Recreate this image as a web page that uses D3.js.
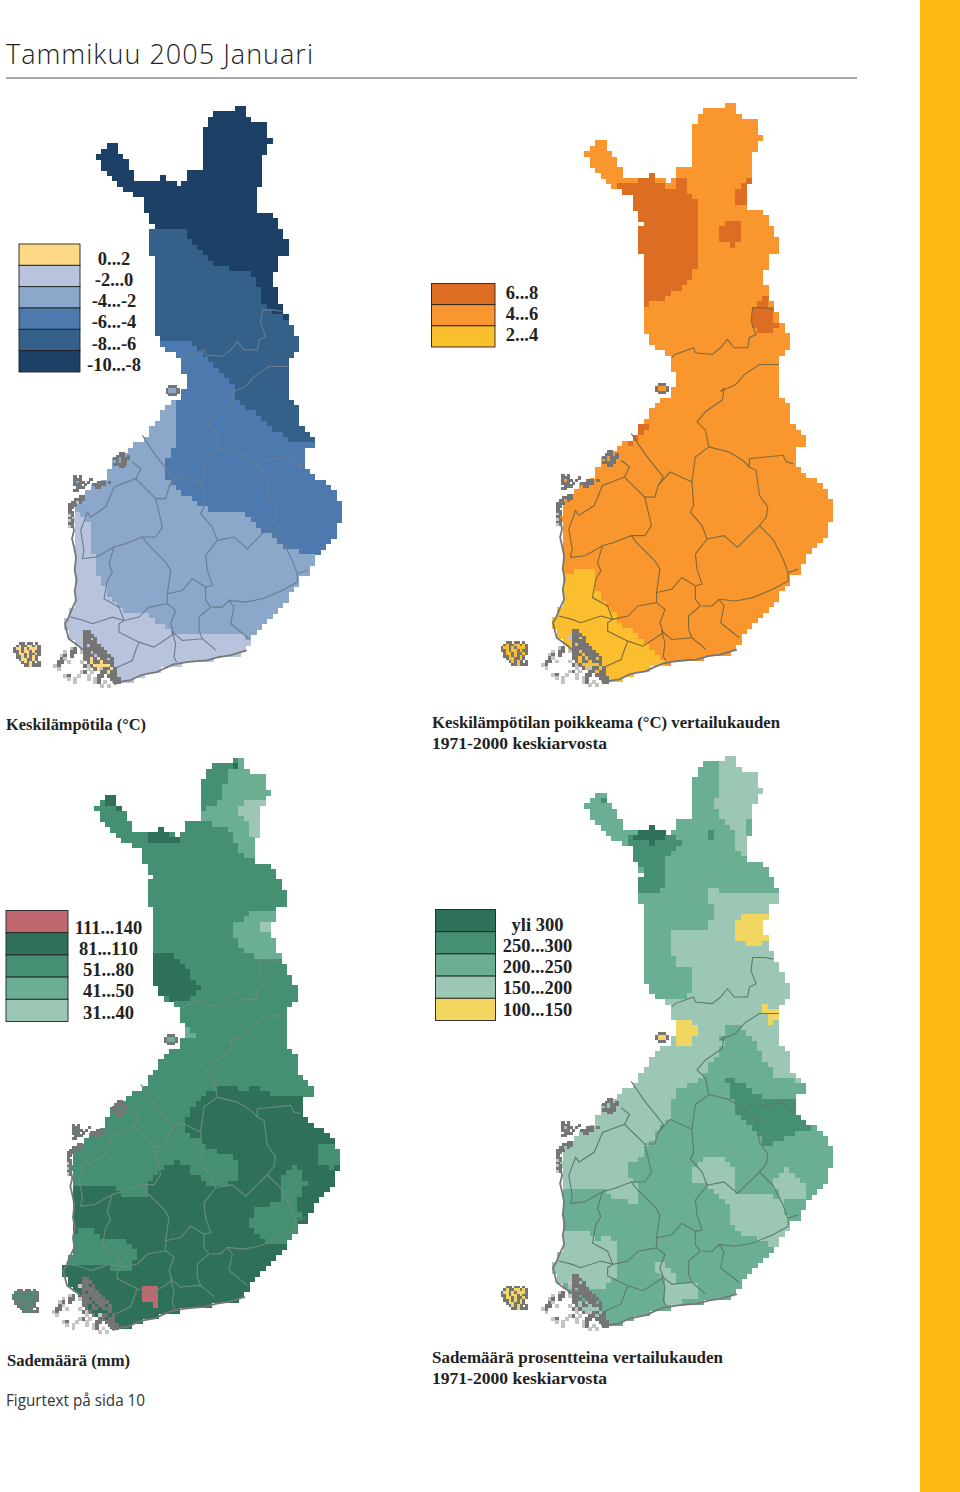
<!DOCTYPE html>
<html>
<head>
<meta charset="utf-8">
<title>Tammikuu 2005 Januari</title>
<script src="https://cdn.jsdelivr.net/npm/d3@7"></script>
<style>
html, body { margin: 0; padding: 0; background: #fff; }
svg { display: block; }
</style>
</head>
<body>
<div id="chart"></div>
<script>
// legends, dark to light as printed
var tempLabels = ["0...2", "-2...0", "-4...-2", "-6...-4", "-8...-6", "-10...-8"];
var tempColors = ["#fdd986", "#b8c3de", "#8ba7c9", "#4d7aae", "#356089", "#1c4066"];
var anomLabels = ["6...8", "4...6", "2...4"];
var anomColors = ["#dd6d23", "#f9962f", "#fbbe2d"];
var rainLabels = ["111...140", "81...110", "51...80", "41...50", "31...40"];
var rainColors = ["#c06870", "#2f7059", "#458f72", "#6bae93", "#9cc7b5"];
var pctLabels = ["yli 300", "250...300", "200...250", "150...200", "100...150"];
var pctColors = ["#2f7059", "#458f72", "#6bae93", "#9cc7b5", "#f2d662"];

// Finland outline in map units (one unit is a third of a pixel on the first map)
var coast = [[290,190],[318,172],[340,155],[360,185],[390,240],[405,275],[450,275],[475,268],[490,248],[500,272],[530,280],[545,295],[562,250],[600,235],[610,200],[600,190],[608,130],[625,95],[640,65],[695,60],[715,45],[735,60],[750,90],[800,105],[808,145],[818,150],[800,170],[790,200],[775,240],[790,255],[785,275],[765,290],[770,370],[805,372],[835,395],[850,440],[865,450],[862,490],[830,510],[825,540],[805,575],[825,600],[845,650],[875,705],[893,755],[890,785],[865,795],[868,935],[895,938],[900,1010],[935,1030],[938,1070],[915,1075],[912,1130],[960,1170],[1005,1200],[1025,1245],[1025,1270],[1015,1295],[1000,1345],[960,1380],[945,1410],[925,1445],[895,1470],[860,1525],[820,1570],[790,1605],[745,1655],[740,1680],[690,1695],[620,1710],[560,1715],[490,1735],[440,1750],[390,1770],[345,1780],[335,1760],[320,1740],[280,1710],[240,1670],[205,1645],[195,1600],[215,1560],[225,1500],[225,1440],[220,1370],[215,1285],[230,1230],[255,1200],[300,1180],[345,1110],[410,1060],[440,1035],[490,960],[530,925],[550,910],[555,885],[550,810],[520,790],[480,770],[475,750],[460,700],[455,650],[470,640],[470,570],[455,530],[470,520],[465,490],[440,490],[455,480],[455,420],[470,410],[440,375],[440,345],[425,325],[365,300],[345,270],[305,225]];

// rougher shoreline drawn over the raster, from Vaasa round to the Gulf of Finland
var southCoast = [[215,1285],[222,1320],[216,1345],[222,1370],[228,1400],[224,1440],[230,1470],[224,1500],[228,1530],[214,1560],[204,1585],[195,1600],[206,1645],[240,1670],[280,1710],[320,1740],[335,1760],[345,1780],[370,1772],[390,1770],[420,1755],[440,1750],[470,1745],[490,1735],[520,1722],[560,1715],[590,1712],[620,1710],[655,1700],[690,1695],[740,1680]];

// province borders, shared by all four maps
var borders = [
  [[547,809],[557,799],[612,779],[617,794],[667,799],[692,779],[712,754],[732,779],[772,779],[777,749],[797,739],[782,699],[787,659],[822,659],[847,664]],
  [[692,909],[737,889],[762,859],[807,829],[865,829]],
  [[692,909],[702,900],[697,935],[647,970],[622,1000],[647,1025],[657,1075]],
  [[657,1075],[717,1090],[757,1115],[777,1135],[777,1110],[877,1100],[887,1120],[907,1125]],
  [[657,1075],[617,1105],[607,1180],[612,1250],[602,1270],[637,1310],[652,1350]],
  [[777,1135],[797,1145],[807,1220],[832,1255],[827,1285],[807,1310],[777,1340],[742,1375],[702,1340],[652,1350]],
  [[807,1310],[847,1350],[877,1410],[892,1450],[892,1475],[847,1500],[787,1525],[737,1535],[687,1530],[667,1550],[637,1550]],
  [[892,1450],[922,1440]],
  [[652,1350],[617,1395],[622,1440],[637,1485],[617,1490],[617,1530],[632,1550],[597,1580],[597,1620],[607,1645],[637,1670],[647,1680]],
  [[687,1530],[702,1550],[692,1600],[747,1645]],
  [[607,1645],[547,1650],[517,1625],[527,1660],[522,1700],[530,1715]],
  [[607,1180],[542,1150],[507,1190],[497,1225],[467,1225],[407,1165],[342,1190],[317,1250],[272,1280],[262,1265],[242,1320],[252,1380],[247,1405]],
  [[247,1405],[290,1400],[342,1370],[377,1360],[427,1340],[467,1340],[487,1310],[467,1225]],
  [[427,1340],[442,1360],[497,1415],[512,1440],[502,1510],[502,1540]],
  [[502,1510],[547,1500],[577,1465],[617,1490]],
  [[342,1370],[327,1420],[337,1445],[322,1470],[312,1525],[357,1550],[372,1590]],
  [[502,1540],[447,1550],[417,1580],[372,1590],[337,1580],[277,1600],[252,1590],[212,1580]],
  [[502,1540],[527,1560],[512,1600],[522,1630],[462,1670],[417,1655],[357,1625],[357,1600],[372,1590]],
  [[417,1655],[407,1680],[397,1710],[342,1735]],
  [[427,1035],[467,1095],[522,1165],[507,1190]],
  [[397,1115],[422,1135],[407,1165]]
];

// class zones per map, later zones paint over earlier ones. First number is the legend row.
var tempBase = 5;
var tempZones = [
  [4, [[400,415],[545,415],[650,530],[745,545],[775,590],[795,650],[860,690],[1100,690],[1100,2000],[100,2000],[100,415]]],
  [3, [[400,750],[565,750],[700,885],[715,930],[790,990],[865,1050],[1100,1070],[1100,2000],[100,2000],[100,750]]],
  [2, [[100,900],[530,900],[530,1070],[515,1075],[500,1120],[500,1160],[530,1195],[600,1240],[650,1270],[730,1260],[790,1320],[850,1370],[945,1400],[1100,1400],[1100,2000],[100,2000]]],
  [1, [[100,1280],[240,1265],[270,1300],[272,1385],[290,1400],[290,1440],[320,1500],[325,1525],[365,1560],[440,1565],[510,1625],[730,1640],[760,1660],[760,2000],[100,2000]]]
];

var anomBase = 1;
var anomZones = [
  [0, [[384,284],[467,279],[477,254],[497,254],[502,279],[527,299],[557,299],[557,279],[587,279],[587,314],[617,344],[632,404],[632,524],[617,539],[597,579],[567,604],[527,634],[472,649],[400,649],[400,489],[430,489],[452,479],[452,419],[437,384],[422,339],[387,319]]],
  [0, [[742,299],[757,299],[772,279],[800,279],[800,374],[765,359],[752,354],[742,354]]],
  [0, [[717,389],[727,404],[757,404],[755,429],[747,449],[737,479],[727,479],[717,464],[697,464],[692,434],[680,429],[697,414],[712,404]]],
  [0, [[822,624],[787,659],[787,719],[822,739],[865,719],[847,689],[832,629]]],
  [0, [[467,1000],[482,1005],[477,1025],[442,1050],[427,1070],[417,1060],[437,1030]]],
  [2, [[100,1460],[297,1445],[327,1445],[322,1500],[337,1525],[367,1560],[387,1595],[477,1665],[530,1725],[530,1800],[100,1800]]]
];

var rainBase = 2;
var rainZones = [
  [3, [[695,82],[740,40],[830,100],[830,152],[795,212],[790,252],[790,362],[740,357],[715,322],[705,272],[655,252],[605,232],[615,212],[665,172],[665,132],[695,122]]],
  [4, [[715,207],[750,177],[810,172],[800,212],[800,292],[760,287],[755,247],[730,227]]],
  [1, [[320,177],[340,150],[365,182],[360,202],[340,197],[320,192]]],
  [1, [[450,282],[485,240],[505,252],[505,277],[530,282],[540,297],[450,297]]],
  [1, [[707,67],[723,67],[723,83],[707,83]]],
  [3, [[710,552],[745,522],[850,507],[830,582],[840,612],[860,652],[775,652],[725,622],[713,602]]],
  [4, [[787,552],[830,552],[830,582],[787,577]]],
  [1, [[430,642],[515,642],[565,682],[605,747],[560,792],[505,772],[475,752],[430,692]]],
  [3, [[540,872],[580,857],[590,897],[540,902]]],
  [1, [[150,1345],[335,1345],[375,1370],[455,1370],[455,1325],[485,1290],[535,1270],[575,1285],[580,1305],[625,1335],[655,1345],[725,1325],[725,1285],[705,1255],[635,1230],[605,1205],[570,1185],[550,1155],[605,1085],[655,1045],[685,1030],[725,1055],[775,1045],[820,1070],[930,1075],[1100,1075],[1100,1900],[100,1900]]],
  [2, [[955,1245],[975,1210],[1050,1235],[1050,1270],[1005,1290],[965,1275]]],
  [2, [[757,1445],[775,1410],[845,1390],[850,1320],[885,1285],[910,1290],[925,1340],[895,1385],[895,1425],[910,1425],[890,1495],[860,1525],[815,1520],[785,1505],[760,1475]]],
  [2, [[180,1555],[245,1465],[285,1470],[315,1500],[365,1500],[410,1530],[410,1570],[390,1600],[335,1600],[325,1585],[255,1575],[180,1595]]],
  [0, [[425,1650],[485,1650],[485,1705],[470,1705],[465,1695],[425,1695]]]
];

var pctBase = 2;
var pctZones = [
  [3, [[682,77],[722,30],[830,107],[830,157],[782,207],[767,277],[762,357],[742,327],[727,267],[687,222],[667,197],[682,177]]],
  [3, [[652,447],[677,447],[697,472],[787,472],[802,462],[902,477],[1100,900],[1100,1035],[927,1035],[862,1025],[827,975],[792,915],[787,912],[745,860],[712,860],[692,897],[702,915],[692,945],[637,1015],[627,1035],[562,1065],[547,1100],[537,1150],[502,1180],[502,1205],[467,1235],[467,1265],[422,1280],[422,1320],[442,1345],[377,1347],[357,1370],[337,1360],[227,1360],[100,1360],[100,900],[552,787],[572,787],[602,762],[602,692],[572,687],[542,642],[542,587],[557,572],[647,582],[652,562],[677,532],[677,507],[652,477]]],
  [3, [[180,1495],[307,1490],[317,1515],[357,1510],[387,1525],[392,1630],[342,1660],[267,1660],[180,1645]]],
  [3, [[357,1365],[380,1345],[445,1345],[455,1385],[430,1415],[420,1395],[375,1390]]],
  [3, [[497,1585],[517,1585],[557,1615],[562,1640],[617,1655],[627,1685],[567,1705],[527,1705],[532,1635],[497,1605]]],
  [3, [[602,1300],[647,1265],[692,1265],[722,1280],[742,1325],[742,1375],[697,1345],[647,1350],[612,1350],[602,1325]]],
  [3, [[657,1350],[702,1345],[742,1375],[867,1385],[892,1455],[847,1495],[802,1510],[757,1505],[727,1470],[712,1415],[677,1375]]],
  [3, [[797,1510],[887,1460],[930,1460],[847,1540],[817,1515]]],
  [3, [[847,1330],[892,1295],[922,1335],[937,1345],[942,1400],[872,1400],[852,1355]]],
  [1, [[422,292],[562,292],[572,317],[527,357],[527,437],[512,472],[440,472],[440,417],[467,397],[437,367],[422,317]]],
  [1, [[664,279],[680,279],[680,309],[664,309]]],
  [1, [[327,159],[354,177],[357,192],[337,182]]],
  [1, [[712,1025],[727,1025],[787,1065],[822,1080],[877,1090],[925,1100],[925,1140],[960,1180],[887,1200],[882,1215],[817,1230],[797,1180],[747,1145],[712,1045]]],
  [0, [[432,292],[452,279],[482,245],[497,267],[527,282],[527,307],[497,307],[492,322],[482,322],[477,307],[452,307]]],
  [4, [[772,527],[840,522],[825,577],[835,612],[787,627],[772,612],[742,607],[742,547]]],
  [4, [[552,847],[602,842],[617,867],[617,887],[602,917],[600,930],[557,930],[552,900]]],
  [4, [[817,797],[832,797],[832,817],[864,812],[864,852],[837,857],[817,827]]]
];

// island clusters as small masks: # grey rock, + land in the class colour, : faint speck
var aland = ["..##.##.#...", ".#+##++#+#..", "#++#+#+++#..", "##+#++#+##..", ".#++#+##+#..", ".##+#+#+#...", "..#++##+#...", "...#+#+#.#..", "....##+###.."];
var turku = [
  "...........##.........",
  "...........###........",
  "..........:##.#.......",
  "...........####.......",
  "...........#.###......",
  ".......:#..######.....",
  ".....:.##.:##.####....",
  "....:#.#...###.####...",
  "....#:.....##+#+##.#..",
  "...##.:...:.#+##+###..",
  "..:#.......#:#+++++#..",
  "...:........:.#+:##+#.",
  "..........:#.:..##+##.",
  ".....:#..:..:..##.###.",
  "......:.:...:.:#...###",
  "........:.....:#.:..##",
  "................:.:..."
];
var kvarken = ["..##..", ".###.#", "##+###", ".#+##.", "#####.", "..##.."];
var vaasa = ["#.#...........", "###...#.......", "#+##.#...###.#", "###.#..#####..", ".###....##....", "##............", ".............."];
var westCoast = ["....##", "..####", ".##+#.", "###...", "##....", "#.....", "##....", ":#....", "#.....", ":#....", "##....", ":#...."];
var hailuoto = [".###.", "#+++#", "#+++#", ".###."];
var clusterMasks = [aland, turku, kvarken, vaasa, westCoast, hailuoto];
var clusterOrigins = [[40,1655],[140,1620],[340,1085],[220,1155],[205,1215],[497,885]];
var clusterCells = [8, 10, 8, 8, 8, 8];

// legend row used for the + cells, in the same order as clusterMasks
var tempIslands = [0, 0, 2, 2, 1, 2];
var anomIslands = [2, 2, 1, 1, 1, 1];
var rainIslands = [2, 1, 2, 2, 2, 3];
var pctIslands = [4, 3, 3, 3, 3, 4];

var titleText = "Tammikuu 2005 Januari";
var footnote = "Figurtext på sida 10";

var W = 960, H = 1492, cell = 16;

var panels = [
  { labels: tempLabels, colors: tempColors, base: tempBase, zones: tempZones, islands: tempIslands,
    xr: [0, 350], yr: [90, 690.5], border: "#6b7c92", legend: { x: 19, w: 61, y: 244, h: 128, tx: 114, t0: 264.5 } },
  { labels: anomLabels, colors: anomColors, base: anomBase, zones: anomZones, islands: anomIslands,
    xr: [487.2, 841.4], yr: [86.9, 689.7], border: "#806a3a", legend: { x: 431.5, w: 63.5, y: 283.5, h: 63.5, tx: 522, t0: 298.5 } },
  { labels: rainLabels, colors: rainColors, base: rainBase, zones: rainZones, islands: rainIslands,
    xr: [-1.7, 348.3], yr: [742.1, 1336.6], border: "#6a8c7c", legend: { x: 6, w: 62, y: 910.5, h: 111, tx: 108.5, t0: 933.5 } },
  { labels: pctLabels, colors: pctColors, base: pctBase, zones: pctZones, islands: pctIslands,
    xr: [487.2, 841.4], yr: [740.2, 1333.6], border: "#5d7a6c", legend: { x: 435.5, w: 60, y: 909.5, h: 111, tx: 537.5, t0: 930.5 } }
];

var captions = [
  { text: "Keskilämpötila (°C)", x: 6, y: 730, len: 140 },
  { text: "Keskilämpötilan poikkeama (°C) vertailukauden", x: 432, y: 728, len: 348 },
  { text: "1971-2000 keskiarvosta", x: 432, y: 749, len: 175 },
  { text: "Sademäärä (mm)", x: 7, y: 1366, len: 123 },
  { text: "Sademäärä prosentteina vertailukauden", x: 432, y: 1363, len: 291 },
  { text: "1971-2000 keskiarvosta", x: 432, y: 1384, len: 175 }
];

var labelPitch = 21.3;

var svg = d3.select("#chart").append("svg")
  .attr("width", W)
  .attr("height", H)
  .attr("viewBox", "0 0 " + W + " " + H);

svg.append("defs").append("filter")
  .attr("id", "soft")
  .attr("x", "-5%").attr("y", "-5%").attr("width", "110%").attr("height", "110%")
  .append("feGaussianBlur")
  .attr("stdDeviation", 0.45);

svg.append("rect")
  .attr("x", 920).attr("y", 0)
  .attr("width", 40).attr("height", H)
  .attr("fill", "#fdb813");

svg.append("text")
  .attr("x", 6).attr("y", 64)
  .attr("textLength", 307)
  .attr("font-family", "'Open Sans', sans-serif")
  .attr("font-weight", 300)
  .attr("font-size", 27)
  .attr("fill", "#222")
  .text(titleText);

svg.append("line")
  .attr("x1", 6).attr("x2", 857)
  .attr("y1", 78).attr("y2", 78)
  .attr("stroke", "#555")
  .attr("stroke-width", 1);

// fill the grid with the class of each cell centre
function rasterize(panel) {
  var cells = [];
  for (var v = 32; v < 1800; v += cell) {
    for (var u = 176; u < 1040; u += cell) {
      var p = [u + cell / 2, v + cell / 2];
      if (!d3.polygonContains(coast, p)) continue;
      var cls = panel.base;
      panel.zones.forEach(function (z) {
        if (d3.polygonContains(z[1], p)) cls = z[0];
      });
      cells.push({ u: u, v: v, cls: cls });
    }
  }
  return cells;
}

function islandCells(panel) {
  var out = [];
  clusterMasks.forEach(function (rows, c) {
    rows.forEach(function (row, r) {
      row.split("").forEach(function (ch, k) {
        if (ch === ".") return;
        out.push({
          u: clusterOrigins[c][0] + k * clusterCells[c],
          v: clusterOrigins[c][1] + r * clusterCells[c],
          size: clusterCells[c],
          ch: ch,
          cls: panel.islands[c]
        });
      });
    });
  });
  return out;
}

panels.forEach(function (panel) {
  var x = d3.scaleLinear().domain([0, 1050]).range(panel.xr);
  var y = d3.scaleLinear().domain([0, 1800]).range(panel.yr);
  var g = svg.append("g").attr("filter", "url(#soft)");

  g.selectAll("rect.cell")
    .data(rasterize(panel))
    .enter().append("rect")
    .attr("class", "cell")
    .attr("shape-rendering", "crispEdges")
    .attr("x", function (d) { return x(d.u); })
    .attr("y", function (d) { return y(d.v); })
    .attr("width", x(cell) - x(0) + 0.7)
    .attr("height", y(cell) - y(0) + 0.7)
    .attr("fill", function (d) { return panel.colors[d.cls]; });

  var line = d3.line().x(function (d) { return x(d[0]); }).y(function (d) { return y(d[1]); });

  g.selectAll("path.border")
    .data(borders)
    .enter().append("path")
    .attr("class", "border")
    .attr("d", line)
    .attr("fill", "none")
    .attr("stroke", panel.border)
    .attr("stroke-width", 1.1);

  g.append("path")
    .attr("d", line(southCoast))
    .attr("fill", "none")
    .attr("stroke", "#777")
    .attr("stroke-width", 1.8);

  g.selectAll("rect.isle")
    .data(islandCells(panel))
    .enter().append("rect")
    .attr("class", "isle")
    .attr("shape-rendering", "crispEdges")
    .attr("x", function (d) { return x(d.u); })
    .attr("y", function (d) { return y(d.v); })
    .attr("width", function (d) { return x(d.size) - x(0) + 0.5; })
    .attr("height", function (d) { return y(d.size) - y(0) + 0.5; })
    .attr("fill", function (d) {
      if (d.ch === "+") return panel.colors[d.cls];
      return d.ch === "#" ? "#757575" : "#c4c4c4";
    });

  // legend
  var lg = panel.legend;
  var rows = d3.scaleBand().domain(panel.labels).range([lg.y, lg.y + lg.h]);
  var legend = svg.append("g");
  legend.selectAll("rect")
    .data(panel.labels)
    .enter().append("rect")
    .attr("x", lg.x)
    .attr("y", function (d) { return rows(d); })
    .attr("width", lg.w)
    .attr("height", rows.bandwidth())
    .attr("fill", function (d, i) { return panel.colors[i]; })
    .attr("stroke", "#222")
    .attr("stroke-width", 0.9);
  legend.selectAll("text")
    .data(panel.labels)
    .enter().append("text")
    .attr("x", lg.tx)
    .attr("y", function (d, i) { return lg.t0 + i * labelPitch; })
    .attr("text-anchor", "middle")
    .attr("font-family", "'Liberation Serif', serif")
    .attr("font-weight", 700)
    .attr("font-size", 18.5)
    .attr("fill", "#222")
    .text(function (d) { return d; });
});

svg.selectAll("text.caption")
  .data(captions)
  .enter().append("text")
  .attr("class", "caption")
  .attr("x", function (d) { return d.x; })
  .attr("y", function (d) { return d.y; })
  .attr("textLength", function (d) { return d.len; })
  .attr("lengthAdjust", "spacingAndGlyphs")
  .attr("font-family", "'Liberation Serif', serif")
  .attr("font-weight", 700)
  .attr("font-size", 17.5)
  .attr("fill", "#222")
  .text(function (d) { return d.text; });

svg.append("text")
  .attr("x", 6).attr("y", 1406)
  .attr("textLength", 139)
  .attr("lengthAdjust", "spacingAndGlyphs")
  .attr("font-family", "'Open Sans', sans-serif")
  .attr("font-weight", 400)
  .attr("font-size", 17)
  .attr("fill", "#333")
  .text(footnote);
</script>
</body>
</html>
